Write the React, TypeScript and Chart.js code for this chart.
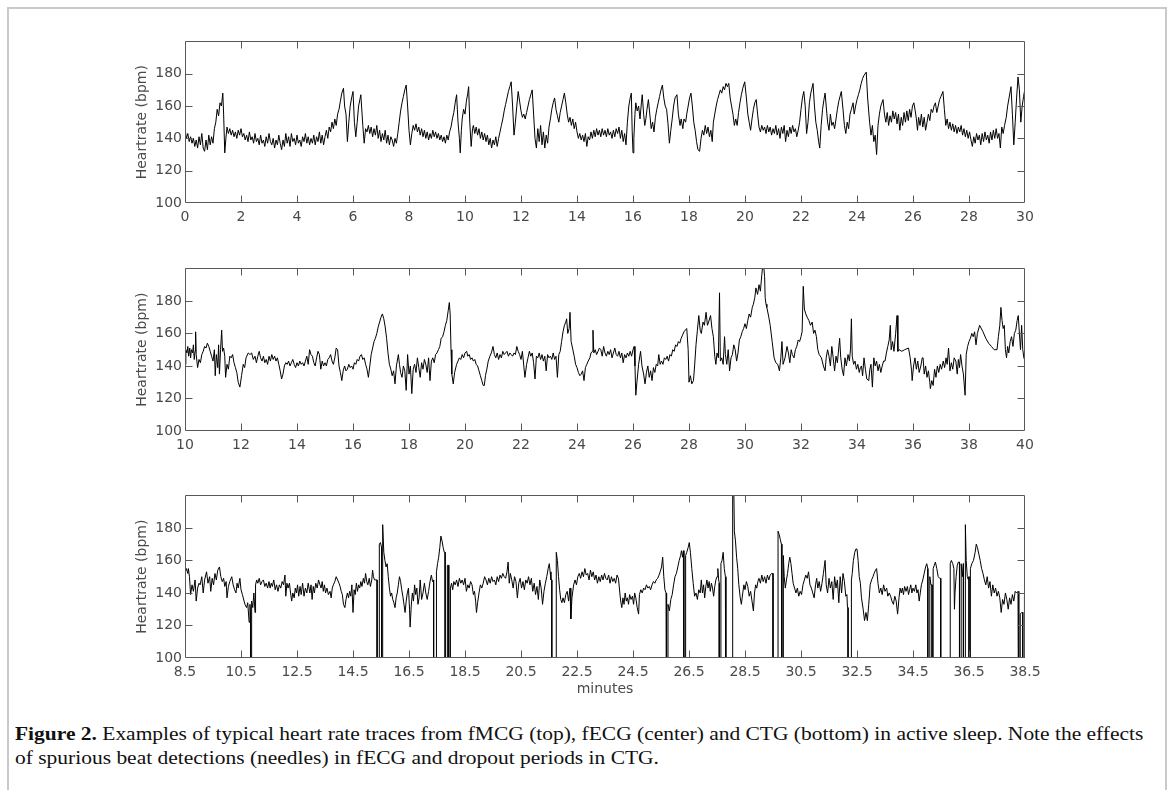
import { useEffect, useRef } from 'react';
import { Chart, registerables } from 'chart.js';

Chart.register(...registerables);

// ---------- data ----------
const yTickValues = [100, 120, 140, 160, 180, 200];
const fmcgTicks = [0, 2, 4, 6, 8, 10, 12, 14, 16, 18, 20, 22, 24, 26, 28, 30];
const fecgTicks = [10, 12, 14, 16, 18, 20, 22, 24, 26, 28, 30, 32, 34, 36, 38, 40];
const ctgTicks = [8.5, 10.5, 12.5, 14.5, 16.5, 18.5, 20.5, 22.5, 24.5, 26.5, 28.5, 30.5, 32.5, 34.5, 36.5, 38.5];

// [minutes, bpm]
const fmcgTrace: number[][] = [
  [0,146],[0.05,140],[0.1,143],[0.15,138],[0.2,141],[0.25,137],[0.3,140],[0.35,135],[0.4,139],[0.45,134],[0.5,141],[0.55,136],[0.6,143],[0.65,134],[0.7,132],[0.75,139],[0.8,133],[0.85,142],[0.9,136],[0.95,141],[1.0,137],[1.05,146],
  [1.1,150],[1.15,158],[1.2,154],[1.25,162],[1.3,160],[1.35,168],[1.38,155],[1.42,131],[1.46,140],[1.5,147],
  [1.55,143],[1.6,146],[1.65,142],[1.7,145],[1.75,141],[1.8,144],[1.85,140],[1.9,145],[1.95,142],[2.0,146],[2.05,141],[2.1,143],[2.15,139],[2.2,142],[2.25,138],[2.3,144],[2.35,139],[2.4,141],[2.45,137],[2.5,143],[2.55,138],[2.6,140],[2.65,136],[2.7,142],[2.75,137],[2.8,139],[2.85,135],[2.9,141],[2.95,137],[3.0,143],[3.05,138],[3.1,136],[3.15,140],[3.2,134],[3.25,139],[3.3,136],[3.35,142],[3.4,137],[3.45,133],[3.5,139],[3.55,135],[3.6,143],[3.65,137],[3.7,141],[3.75,135],[3.8,143],[3.85,138],[3.9,140],[3.95,136],[4.0,142],[4.05,137],[4.1,139],[4.15,135],[4.2,141],[4.25,138],[4.3,143],[4.35,137],[4.4,141],[4.45,136],[4.5,140],[4.55,137],[4.6,142],[4.65,136],[4.7,141],[4.75,138],[4.8,144],[4.85,137],[4.9,142],[4.95,136],[5.0,141],[5.05,145],
  [5.1,140],[5.15,147],[5.2,144],[5.25,150],[5.3,146],[5.35,152],[5.4,148],[5.45,155],[5.5,158],[5.55,163],[5.6,168],[5.66,171],[5.7,160],[5.75,155],[5.8,138],[5.85,150],[5.9,160],[5.95,165],[6.0,169],[6.05,150],[6.1,141],[6.15,150],[6.2,160],[6.28,167],[6.35,148],[6.4,137],[6.45,146],[6.5,144],[6.55,148],[6.6,143],[6.65,147],[6.7,141],[6.75,146],[6.8,142],[6.85,148],[6.9,140],[6.95,145],[7.0,138],[7.05,143],[7.1,139],[7.15,145],[7.2,137],[7.25,142],[7.3,136],[7.35,141],[7.4,139],[7.45,135],[7.5,140],[7.55,137],[7.6,143],[7.65,150],[7.7,157],[7.75,162],[7.8,166],[7.85,170],[7.9,173],[7.95,160],[8.0,145],[8.05,136],[8.1,143],[8.15,148],[8.2,145],[8.25,149],[8.3,144],[8.35,147],[8.4,142],[8.45,146],[8.5,141],[8.55,145],[8.6,140],[8.65,144],[8.7,139],[8.75,143],[8.8,140],[8.85,145],[8.9,141],[8.95,144],[9.0,140],[9.05,143],[9.1,139],[9.15,142],[9.2,138],[9.25,141],[9.3,137],[9.35,142],[9.4,139],[9.45,144],[9.5,147],[9.55,152],[9.6,156],[9.65,162],[9.7,167],[9.75,150],[9.8,140],[9.83,131],[9.87,145],[9.9,152],[9.95,158],[10.0,155],[10.05,163],[10.1,168],[10.13,172],[10.17,150],[10.22,135],[10.27,146],[10.3,148],[10.35,143],[10.4,147],[10.45,142],[10.5,146],[10.55,140],[10.6,144],[10.65,139],[10.7,143],[10.75,138],[10.8,142],[10.85,136],[10.9,140],[10.95,134],[11.0,139],[11.05,136],[11.1,141],[11.15,135],[11.2,140],[11.25,144],[11.3,148],[11.35,152],[11.4,157],[11.45,161],[11.5,165],[11.55,169],[11.6,172],[11.65,175],[11.7,160],[11.75,142],[11.8,150],[11.85,160],[11.9,169],[11.95,163],[12.0,157],[12.05,153],[12.1,155],[12.15,152],[12.2,156],[12.25,160],[12.3,164],[12.35,167],[12.4,170],[12.45,155],[12.5,140],[12.55,134],[12.6,146],[12.65,138],[12.7,148],[12.75,136],[12.8,144],[12.85,134],[12.9,142],[12.95,137],[13.0,147],[13.05,152],[13.1,158],[13.15,162],[13.2,165],[13.25,158],[13.3,154],[13.35,150],[13.4,156],[13.45,160],[13.5,164],[13.55,168],[13.6,162],[13.65,155],[13.7,150],[13.75,153],[13.8,148],[13.85,152],[13.9,146],[13.95,150],[14.0,144],[14.05,140],[14.1,143],[14.15,139],[14.2,142],[14.25,138],[14.3,143],[14.35,135],[14.4,141],[14.45,139],[14.5,144],[14.55,140],[14.6,145],[14.65,141],[14.7,146],[14.75,142],[14.8,145],[14.85,141],[14.9,146],[14.95,142],[15.0,145],[15.05,141],[15.1,146],[15.15,142],[15.2,144],[15.25,140],[15.3,145],[15.35,141],[15.4,146],[15.45,143],[15.5,147],[15.55,140],[15.6,145],[15.65,138],[15.7,143],[15.75,136],[15.8,150],[15.85,160],[15.9,165],[15.94,168],[15.97,145],[16.0,131],[16.03,140],[16.07,155],[16.1,162],[16.15,157],[16.2,160],[16.25,152],[16.3,162],[16.33,167],[16.38,155],[16.42,148],[16.46,152],[16.5,158],[16.55,164],[16.6,155],[16.65,146],[16.7,150],[16.75,144],[16.8,153],[16.85,158],[16.9,162],[16.95,166],[17.0,170],[17.05,173],[17.1,165],[17.15,160],[17.2,158],[17.25,149],[17.3,137],[17.35,145],[17.4,152],[17.45,160],[17.5,165],[17.57,167],[17.62,155],[17.68,148],[17.72,152],[17.78,146],[17.82,152],[17.88,150],[17.92,155],[17.97,160],[18.02,165],[18.07,168],[18.12,160],[18.17,150],[18.22,145],[18.27,138],[18.32,133],[18.38,132],[18.43,140],[18.48,145],[18.53,142],[18.58,148],[18.63,143],[18.68,147],[18.73,141],[18.78,145],[18.83,138],[18.87,150],[18.92,155],[18.97,160],[19.02,164],[19.07,167],[19.12,170],[19.17,168],[19.22,172],[19.27,170],[19.32,174],[19.37,172],[19.42,174],[19.47,165],[19.52,160],[19.57,155],[19.62,148],[19.67,152],[19.72,148],[19.77,156],[19.82,162],[19.87,167],[19.92,171],[19.99,175],[20.05,165],[20.1,155],[20.15,150],[20.2,145],[20.25,152],[20.3,158],[20.35,162],[20.4,164],[20.45,155],[20.5,147],[20.55,144],[20.6,148],[20.65,145],[20.7,147],[20.75,143],[20.8,148],[20.85,144],[20.9,147],[20.95,142],[21.0,146],[21.05,143],[21.1,148],[21.15,142],[21.2,146],[21.25,140],[21.3,147],[21.35,143],[21.4,148],[21.45,138],[21.5,145],[21.55,141],[21.6,147],[21.65,143],[21.7,148],[21.75,144],[21.8,146],[21.85,141],[21.9,145],[21.95,150],[22.0,158],[22.05,165],[22.1,169],[22.15,160],[22.2,143],[22.25,150],[22.3,162],[22.35,168],[22.43,174],[22.48,160],[22.53,150],[22.58,145],[22.63,138],[22.67,134],[22.72,148],[22.77,158],[22.82,164],[22.86,168],[22.9,160],[22.95,150],[23.0,145],[23.05,155],[23.1,148],[23.15,150],[23.2,146],[23.25,152],[23.3,158],[23.35,163],[23.44,169],[23.5,158],[23.55,148],[23.6,143],[23.65,150],[23.7,146],[23.75,155],[23.8,158],[23.86,162],[23.9,155],[23.95,160],[24.0,164],[24.05,167],[24.1,170],[24.15,174],[24.2,177],[24.25,179],[24.33,181],[24.38,165],[24.45,150],[24.5,142],[24.55,148],[24.6,138],[24.65,142],[24.7,130],[24.75,148],[24.8,155],[24.85,160],[24.93,164],[24.98,155],[25.03,150],[25.08,156],[25.13,148],[25.18,154],[25.23,150],[25.28,157],[25.33,152],[25.38,156],[25.43,149],[25.48,155],[25.53,145],[25.58,153],[25.63,148],[25.68,156],[25.73,150],[25.78,157],[25.83,151],[25.88,158],[25.93,153],[25.98,160],[26.03,162],[26.08,157],[26.12,152],[26.16,145],[26.2,153],[26.25,148],[26.3,155],[26.35,147],[26.4,153],[26.45,145],[26.5,150],[26.55,155],[26.6,151],[26.65,158],[26.7,156],[26.75,160],[26.8,162],[26.85,156],[26.9,160],[26.95,164],[27.0,166],[27.07,169],[27.12,158],[27.17,148],[27.22,152],[27.27,146],[27.32,150],[27.37,145],[27.42,149],[27.47,144],[27.52,148],[27.57,143],[27.62,147],[27.67,144],[27.72,148],[27.77,142],[27.82,146],[27.87,141],[27.92,145],[27.97,140],[28.02,144],[28.07,139],[28.12,135],[28.17,141],[28.22,137],[28.27,143],[28.32,139],[28.37,142],[28.42,136],[28.47,143],[28.52,138],[28.57,144],[28.62,139],[28.67,142],[28.72,137],[28.77,144],[28.82,139],[28.87,145],[28.92,140],[28.97,146],[29.02,140],[29.07,143],[29.12,134],[29.17,147],[29.22,143],[29.27,148],[29.33,153],[29.38,160],[29.43,165],[29.5,172],[29.55,155],[29.6,136],[29.65,150],[29.7,165],[29.75,178],[29.8,170],[29.85,150],[29.9,160],[29.95,166],[30.0,171]
];

const fecgTrace: number[][] = [
  [10.0,141],[10.03,150],[10.07,148],[10.1,152],[10.13,146],[10.17,151],[10.2,145],[10.23,150],[10.27,148],[10.3,153],[10.33,144],[10.36,149],[10.38,161],[10.4,147],[10.45,139],[10.5,144],[10.55,142],[10.6,147],[10.65,149],[10.7,152],[10.75,151],[10.8,154],[10.85,152],[10.9,149],[10.95,146],[11.0,143],[11.05,150],[11.08,134],[11.12,147],[11.17,139],[11.2,153],[11.23,135],[11.27,150],[11.31,162],[11.34,149],[11.38,151],[11.42,146],[11.45,133],[11.5,141],[11.55,138],[11.6,146],[11.65,145],[11.7,147],[11.75,142],[11.8,139],[11.85,136],[11.9,130],[11.96,127],[12.02,134],[12.08,141],[12.13,139],[12.18,145],[12.26,148],[12.32,147],[12.38,148],[12.44,144],[12.5,146],[12.55,142],[12.6,146],[12.65,149],[12.7,145],[12.75,143],[12.8,146],[12.85,142],[12.9,144],[12.95,141],[13.0,146],[13.05,143],[13.1,147],[13.15,144],[13.2,146],[13.25,143],[13.3,145],[13.35,141],[13.4,137],[13.45,132],[13.5,135],[13.55,140],[13.6,142],[13.65,141],[13.7,143],[13.75,140],[13.8,142],[13.85,144],[13.9,141],[13.95,139],[14.0,142],[14.05,140],[14.1,143],[14.15,141],[14.2,142],[14.25,140],[14.3,143],[14.35,146],[14.4,141],[14.45,150],[14.5,147],[14.55,146],[14.6,142],[14.65,140],[14.7,145],[14.75,149],[14.8,147],[14.85,138],[14.9,143],[14.95,140],[15.0,142],[15.05,140],[15.1,144],[15.15,145],[15.2,147],[15.25,143],[15.3,141],[15.35,145],[15.4,151],[15.45,150],[15.5,140],[15.55,136],[15.6,131],[15.65,137],[15.7,140],[15.75,137],[15.8,138],[15.85,141],[15.9,139],[15.95,140],[16.0,138],[16.05,142],[16.1,141],[16.15,144],[16.2,143],[16.25,146],[16.3,147],[16.35,144],[16.4,145],[16.45,141],[16.5,138],[16.55,133],[16.6,140],[16.65,147],[16.7,151],[16.75,155],[16.8,157],[16.85,160],[16.9,164],[16.95,167],[17.0,170],[17.05,172],[17.1,169],[17.15,164],[17.2,157],[17.25,148],[17.3,141],[17.35,138],[17.4,134],[17.45,137],[17.5,129],[17.55,140],[17.6,145],[17.62,147],[17.66,141],[17.7,136],[17.75,133],[17.8,140],[17.85,137],[17.9,125],[17.95,147],[18.0,135],[18.05,140],[18.1,123],[18.15,138],[18.2,141],[18.25,136],[18.3,145],[18.35,139],[18.4,133],[18.45,142],[18.5,138],[18.55,144],[18.6,141],[18.65,136],[18.7,145],[18.75,131],[18.8,143],[18.85,145],[18.9,142],[18.95,147],[19.0,148],[19.05,150],[19.1,152],[19.15,157],[19.2,158],[19.25,161],[19.3,165],[19.35,168],[19.4,174],[19.44,179],[19.47,172],[19.5,150],[19.53,135],[19.58,129],[19.63,136],[19.7,141],[19.75,143],[19.8,145],[19.85,144],[19.9,147],[19.95,145],[20.0,148],[20.06,149],[20.1,146],[20.15,147],[20.2,144],[20.25,145],[20.3,143],[20.35,144],[20.4,141],[20.45,140],[20.5,137],[20.55,134],[20.6,131],[20.65,128],[20.69,128],[20.73,134],[20.78,138],[20.83,143],[20.89,146],[20.94,148],[21.0,152],[21.05,147],[21.1,145],[21.15,148],[21.2,144],[21.25,147],[21.3,145],[21.35,149],[21.4,147],[21.45,148],[21.5,149],[21.55,146],[21.6,148],[21.65,147],[21.7,146],[21.75,148],[21.8,147],[21.85,152],[21.9,149],[21.95,147],[22.0,144],[22.05,149],[22.1,140],[22.14,133],[22.2,141],[22.25,145],[22.3,149],[22.35,146],[22.4,148],[22.45,142],[22.5,132],[22.55,146],[22.6,145],[22.65,148],[22.7,144],[22.75,147],[22.8,143],[22.85,146],[22.9,137],[22.95,147],[23.0,145],[23.05,146],[23.1,144],[23.15,148],[23.2,144],[23.25,146],[23.3,133],[23.35,147],[23.4,149],[23.45,155],[23.5,161],[23.55,165],[23.6,167],[23.63,169],[23.67,160],[23.72,163],[23.75,173],[23.79,155],[23.84,151],[23.9,146],[23.95,141],[24.0,139],[24.05,136],[24.1,134],[24.15,135],[24.2,137],[24.25,131],[24.3,139],[24.35,141],[24.4,143],[24.46,145],[24.5,148],[24.55,149],[24.57,162],[24.6,148],[24.65,150],[24.7,147],[24.75,149],[24.8,151],[24.85,150],[24.9,146],[24.95,152],[25.0,148],[25.05,146],[25.1,149],[25.15,147],[25.2,150],[25.25,145],[25.3,148],[25.35,151],[25.4,147],[25.45,146],[25.5,149],[25.55,145],[25.6,148],[25.65,142],[25.7,147],[25.75,145],[25.8,148],[25.85,146],[25.9,149],[25.95,146],[26.0,150],[26.04,152],[26.07,140],[26.1,122],[26.14,130],[26.2,141],[26.27,149],[26.32,140],[26.38,135],[26.43,129],[26.48,136],[26.53,140],[26.58,133],[26.63,137],[26.68,131],[26.73,139],[26.78,136],[26.83,141],[26.88,140],[26.92,147],[26.97,141],[27.02,143],[27.07,141],[27.12,145],[27.17,144],[27.22,146],[27.27,143],[27.32,147],[27.37,146],[27.42,150],[27.47,149],[27.52,153],[27.57,152],[27.62,155],[27.67,154],[27.72,157],[27.77,159],[27.82,161],[27.86,162],[27.92,163],[27.97,150],[28.0,130],[28.05,134],[28.1,129],[28.16,131],[28.2,140],[28.25,153],[28.3,162],[28.35,171],[28.4,162],[28.44,160],[28.5,167],[28.55,165],[28.61,173],[28.66,165],[28.7,167],[28.77,171],[28.82,163],[28.87,158],[28.92,146],[28.96,141],[29.0,148],[29.05,145],[29.09,185],[29.12,143],[29.17,145],[29.22,141],[29.27,158],[29.3,147],[29.35,141],[29.4,150],[29.45,137],[29.5,145],[29.55,147],[29.6,153],[29.65,150],[29.7,143],[29.75,148],[29.8,156],[29.85,158],[29.9,161],[29.95,163],[30.0,166],[30.05,163],[30.1,168],[30.15,172],[30.2,170],[30.26,176],[30.3,178],[30.35,182],[30.39,188],[30.45,184],[30.5,190],[30.55,186],[30.6,196],[30.65,205],[30.7,195],[30.72,182],[30.75,178],[30.78,176],[30.85,170],[30.9,165],[30.97,155],[31.04,145],[31.1,142],[31.17,141],[31.23,137],[31.28,145],[31.32,155],[31.36,141],[31.43,145],[31.5,152],[31.55,148],[31.6,142],[31.65,150],[31.69,147],[31.75,145],[31.8,150],[31.85,152],[31.9,156],[31.95,155],[32.0,158],[32.04,161],[32.08,189],[32.12,175],[32.17,172],[32.22,170],[32.28,168],[32.34,165],[32.4,167],[32.45,160],[32.5,162],[32.55,158],[32.6,150],[32.65,147],[32.73,145],[32.8,140],[32.86,137],[32.9,145],[32.95,150],[33.0,146],[33.05,140],[33.1,152],[33.15,145],[33.2,137],[33.25,146],[33.3,142],[33.38,157],[33.42,145],[33.47,138],[33.52,134],[33.57,145],[33.62,140],[33.68,147],[33.73,143],[33.77,151],[33.8,169],[33.83,146],[33.88,141],[33.93,143],[33.98,138],[34.03,141],[34.08,136],[34.12,139],[34.16,140],[34.2,134],[34.25,145],[34.3,138],[34.35,132],[34.42,131],[34.46,138],[34.5,141],[34.55,127],[34.6,145],[34.65,140],[34.7,143],[34.75,137],[34.8,141],[34.85,136],[34.9,140],[34.95,143],[35.0,143],[35.05,148],[35.1,152],[35.15,156],[35.19,165],[35.22,150],[35.27,155],[35.32,149],[35.38,160],[35.43,171],[35.46,149],[35.5,150],[35.6,149],[35.7,150],[35.84,151],[35.9,145],[35.95,137],[35.97,131],[36.02,140],[36.07,145],[36.12,138],[36.17,143],[36.22,136],[36.28,140],[36.33,145],[36.36,145],[36.4,135],[36.45,140],[36.5,133],[36.55,137],[36.6,130],[36.62,126],[36.67,131],[36.72,128],[36.77,138],[36.82,133],[36.87,140],[36.92,136],[36.97,141],[37.02,138],[37.08,143],[37.13,139],[37.18,145],[37.22,141],[37.27,151],[37.32,137],[37.37,142],[37.42,138],[37.47,145],[37.53,143],[37.58,135],[37.62,144],[37.66,139],[37.7,147],[37.75,140],[37.8,135],[37.86,122],[37.9,147],[37.95,152],[38.0,155],[38.05,157],[38.1,160],[38.15,158],[38.2,161],[38.25,153],[38.3,160],[38.38,165],[38.5,161],[38.6,157],[38.7,154],[38.8,152],[38.9,150],[39.0,150],[39.05,158],[39.1,165],[39.14,176],[39.18,168],[39.22,163],[39.26,165],[39.3,150],[39.34,145],[39.38,152],[39.42,148],[39.47,155],[39.52,158],[39.57,152],[39.62,160],[39.67,162],[39.72,168],[39.76,171],[39.8,160],[39.84,150],[39.88,165],[39.92,150],[39.96,145],[40.0,143]
];

const ctgTrace: number[][] = [
  [8.5,131],[8.51,153],[8.55,155],[8.6,152],[8.62,155],[8.66,150],[8.7,139],[8.75,145],[8.8,141],[8.86,148],[8.9,135],[8.95,143],[9.0,146],[9.04,145],[9.1,150],[9.15,140],[9.2,148],[9.27,153],[9.32,146],[9.38,150],[9.42,141],[9.47,149],[9.52,145],[9.57,152],[9.62,148],[9.67,154],[9.73,156],[9.78,150],[9.83,147],[9.88,149],[9.92,144],[9.97,147],[10.0,137],[10.05,144],[10.1,147],[10.17,150],[10.22,145],[10.27,142],[10.32,140],[10.36,146],[10.4,143],[10.46,149],[10.5,142],[10.55,139],[10.58,137],[10.64,133],[10.7,131],[10.74,134],[10.79,122],[10.82,133],[10.84,128],[10.84,0],[10.88,0],[10.88,135],[10.92,131],[10.96,140],[11.0,128],[11.02,145],[11.06,148],[11.1,146],[11.15,149],[11.2,145],[11.25,147],[11.3,148],[11.35,144],[11.4,146],[11.45,143],[11.5,147],[11.54,143],[11.58,146],[11.62,144],[11.67,148],[11.72,142],[11.77,145],[11.82,141],[11.87,145],[11.92,143],[11.97,147],[12.02,145],[12.07,151],[12.1,138],[12.14,146],[12.18,143],[12.23,146],[12.27,140],[12.31,135],[12.35,140],[12.4,137],[12.44,143],[12.48,140],[12.52,145],[12.56,138],[12.61,144],[12.65,139],[12.7,146],[12.75,138],[12.8,143],[12.85,140],[12.9,146],[12.96,140],[13.0,145],[13.04,136],[13.08,144],[13.12,140],[13.17,146],[13.22,143],[13.27,148],[13.32,145],[13.36,143],[13.4,147],[13.44,141],[13.48,145],[13.52,140],[13.57,143],[13.62,139],[13.68,141],[13.72,137],[13.76,143],[13.8,145],[13.85,147],[13.9,150],[13.95,148],[14.0,146],[14.04,144],[14.08,141],[14.12,139],[14.16,133],[14.21,131],[14.25,136],[14.3,140],[14.34,137],[14.38,141],[14.42,138],[14.46,145],[14.5,128],[14.54,142],[14.58,139],[14.62,146],[14.66,141],[14.7,145],[14.74,143],[14.78,147],[14.82,144],[14.87,149],[14.91,146],[14.95,152],[14.99,147],[15.03,145],[15.08,149],[15.12,144],[15.17,148],[15.2,154],[15.23,150],[15.27,148],[15.32,148],[15.36,148],[15.36,0],[15.44,0],[15.44,170],[15.48,171],[15.52,168],[15.52,0],[15.56,0],[15.56,182],[15.6,165],[15.64,160],[15.68,156],[15.72,158],[15.76,150],[15.8,143],[15.84,138],[15.88,140],[15.92,136],[15.96,134],[16.0,131],[16.04,137],[16.08,140],[16.12,145],[16.16,150],[16.2,147],[16.24,142],[16.28,138],[16.32,133],[16.36,128],[16.4,135],[16.44,140],[16.48,143],[16.52,130],[16.54,119],[16.58,132],[16.62,140],[16.66,135],[16.7,145],[16.74,139],[16.78,143],[16.82,133],[16.86,137],[16.9,148],[16.95,136],[17.0,140],[17.05,146],[17.1,140],[17.15,136],[17.2,141],[17.25,147],[17.3,151],[17.34,147],[17.38,148],[17.38,0],[17.48,0],[17.48,153],[17.52,158],[17.56,162],[17.6,168],[17.64,175],[17.68,172],[17.72,168],[17.76,165],[17.79,165],[17.79,0],[17.87,0],[17.87,157],[17.92,157],[17.92,0],[17.98,0],[17.98,143],[18.02,146],[18.06,142],[18.1,147],[18.15,145],[18.2,148],[18.25,144],[18.3,149],[18.35,146],[18.4,148],[18.45,145],[18.5,149],[18.55,141],[18.6,145],[18.65,143],[18.7,147],[18.75,145],[18.8,139],[18.84,141],[18.88,135],[18.91,128],[18.95,134],[19.0,140],[19.05,145],[19.1,143],[19.15,146],[19.2,150],[19.25,148],[19.3,145],[19.35,149],[19.4,146],[19.45,150],[19.5,147],[19.55,148],[19.6,145],[19.65,150],[19.7,147],[19.75,151],[19.8,149],[19.85,152],[19.9,150],[19.95,149],[20.0,153],[20.04,159],[20.08,146],[20.12,152],[20.17,148],[20.22,143],[20.27,150],[20.32,147],[20.37,137],[20.42,146],[20.47,149],[20.52,143],[20.57,147],[20.62,142],[20.67,148],[20.72,146],[20.77,150],[20.82,145],[20.87,149],[20.92,141],[20.97,146],[21.02,139],[21.07,144],[21.12,136],[21.17,148],[21.22,143],[21.27,133],[21.32,141],[21.37,146],[21.42,150],[21.47,155],[21.51,158],[21.54,153],[21.57,148],[21.6,148],[21.6,0],[21.76,0],[21.76,165],[21.8,160],[21.84,150],[21.88,142],[21.92,136],[21.96,134],[22.0,137],[22.05,134],[22.1,139],[22.15,141],[22.2,135],[22.25,143],[22.28,124],[22.32,137],[22.38,145],[22.43,148],[22.48,145],[22.53,150],[22.58,152],[22.63,149],[22.68,153],[22.73,150],[22.78,155],[22.83,151],[22.88,152],[22.93,148],[22.98,154],[23.03,150],[23.08,153],[23.13,148],[23.18,151],[23.23,146],[23.28,150],[23.33,147],[23.38,151],[23.43,148],[23.48,152],[23.53,149],[23.58,148],[23.63,151],[23.68,146],[23.73,150],[23.78,147],[23.83,149],[23.88,146],[23.93,151],[23.98,149],[24.03,140],[24.06,135],[24.1,131],[24.14,137],[24.18,133],[24.22,140],[24.26,135],[24.3,137],[24.34,133],[24.38,139],[24.43,136],[24.48,138],[24.52,133],[24.56,140],[24.6,137],[24.65,131],[24.7,127],[24.73,139],[24.78,142],[24.83,140],[24.88,143],[24.93,142],[24.98,145],[25.03,143],[25.08,144],[25.13,142],[25.18,145],[25.23,147],[25.28,146],[25.33,148],[25.38,149],[25.43,151],[25.47,153],[25.52,156],[25.56,162],[25.6,150],[25.64,142],[25.68,140],[25.7,140],[25.7,0],[25.75,0],[25.75,133],[25.8,129],[25.85,136],[25.9,139],[25.95,145],[26.0,150],[26.05,152],[26.1,156],[26.15,160],[26.2,163],[26.23,166],[26.27,162],[26.3,166],[26.32,166],[26.32,0],[26.38,0],[26.38,163],[26.42,165],[26.47,168],[26.51,171],[26.55,165],[26.6,155],[26.65,146],[26.7,138],[26.75,140],[26.8,136],[26.85,142],[26.9,140],[26.94,148],[26.98,140],[27.02,145],[27.06,137],[27.1,144],[27.14,148],[27.18,143],[27.22,147],[27.26,141],[27.3,146],[27.34,143],[27.38,138],[27.42,144],[27.46,148],[27.5,150],[27.53,155],[27.56,148],[27.58,146],[27.58,0],[27.64,0],[27.64,158],[27.68,160],[27.72,165],[27.76,155],[27.8,150],[27.82,150],[27.82,0],[28.06,0],[28.06,205],[28.1,205],[28.12,178],[28.16,172],[28.2,162],[28.24,155],[28.28,145],[28.33,137],[28.37,133],[28.42,140],[28.46,145],[28.5,142],[28.55,147],[28.6,144],[28.65,138],[28.7,141],[28.75,135],[28.8,129],[28.84,140],[28.88,145],[28.92,143],[28.96,147],[29.0,149],[29.05,146],[29.1,151],[29.15,147],[29.2,150],[29.25,146],[29.3,151],[29.35,148],[29.4,151],[29.45,152],[29.5,152],[29.5,0],[29.68,0],[29.68,178],[29.72,176],[29.76,173],[29.8,170],[29.82,170],[29.82,0],[29.87,0],[29.87,163],[29.9,150],[29.94,143],[29.98,148],[30.02,152],[30.06,158],[30.1,162],[30.14,158],[30.18,152],[30.22,146],[30.27,143],[30.32,140],[30.37,143],[30.42,138],[30.47,141],[30.52,139],[30.57,145],[30.62,148],[30.67,151],[30.72,149],[30.77,153],[30.82,145],[30.87,143],[30.92,140],[30.97,137],[31.02,145],[31.06,149],[31.1,143],[31.15,147],[31.2,141],[31.25,146],[31.3,152],[31.36,160],[31.4,145],[31.45,140],[31.5,149],[31.55,143],[31.6,147],[31.65,136],[31.7,150],[31.75,143],[31.8,148],[31.85,134],[31.9,150],[31.95,140],[32.0,152],[32.05,147],[32.1,138],[32.14,139],[32.16,131],[32.18,131],[32.18,0],[32.3,0],[32.3,148],[32.33,152],[32.37,160],[32.42,165],[32.46,167],[32.5,167],[32.54,160],[32.58,150],[32.62,146],[32.66,137],[32.72,130],[32.77,123],[32.82,128],[32.87,123],[32.92,133],[32.97,145],[33.02,148],[33.07,150],[33.11,152],[33.16,154],[33.2,155],[33.25,146],[33.3,140],[33.35,143],[33.4,139],[33.45,145],[33.5,141],[33.56,143],[33.6,138],[33.65,140],[33.7,138],[33.75,135],[33.8,133],[33.85,138],[33.9,135],[33.95,127],[34.0,137],[34.04,143],[34.08,140],[34.12,143],[34.16,139],[34.2,144],[34.25,141],[34.3,144],[34.34,139],[34.38,142],[34.42,145],[34.46,140],[34.5,143],[34.55,141],[34.6,145],[34.64,140],[34.68,142],[34.72,135],[34.76,140],[34.8,145],[34.85,148],[34.9,152],[34.95,156],[34.99,158],[35.03,155],[35.03,0],[35.1,0],[35.1,150],[35.14,145],[35.18,145],[35.18,0],[35.22,0],[35.22,155],[35.26,157],[35.3,159],[35.35,155],[35.4,150],[35.45,149],[35.49,149],[35.49,0],[35.83,0],[35.83,158],[35.87,160],[35.92,158],[35.96,155],[35.98,130],[36.0,140],[36.04,150],[36.08,157],[36.12,159],[36.16,159],[36.16,0],[36.22,0],[36.22,158],[36.26,150],[36.3,158],[36.3,0],[36.37,0],[36.37,182],[36.4,160],[36.44,150],[36.48,148],[36.5,150],[36.5,0],[36.55,0],[36.55,155],[36.6,158],[36.66,160],[36.72,165],[36.76,170],[36.8,168],[36.85,164],[36.9,160],[36.95,155],[37.0,152],[37.05,148],[37.1,145],[37.15,150],[37.2,143],[37.25,147],[37.3,138],[37.35,145],[37.4,140],[37.45,143],[37.5,138],[37.55,141],[37.6,137],[37.65,128],[37.7,136],[37.75,133],[37.8,140],[37.85,136],[37.9,130],[37.95,137],[38.0,133],[38.05,139],[38.1,135],[38.15,141],[38.2,140],[38.25,141],[38.28,141],[38.28,0],[38.33,0],[38.33,127],[38.38,128],[38.42,128],[38.42,0],[38.48,0],[38.48,139],[38.5,139]
];

// ---------- styling ----------
const AXIS_TEXT = '#4a4a4a';
const AXIS_LINE = '#585858';
const FONT = "'DejaVu Sans', sans-serif";
const TICK_LEN = 7;

const matlabFrame = {
  id: 'matlabFrame',
  afterDraw(chart: any) {
    const { ctx, chartArea, scales } = chart;
    const l = Math.round(chartArea.left) + 0.5;
    const r = Math.round(chartArea.right) - 0.5;
    const t = Math.round(chartArea.top) + 0.5;
    const b = Math.round(chartArea.bottom) - 0.5;
    ctx.save();
    ctx.strokeStyle = AXIS_LINE;
    ctx.lineWidth = 1;
    ctx.beginPath();
    ctx.rect(l, t, r - l, b - t);
    for (const tk of scales.x.ticks) {
      const px = Math.round(scales.x.getPixelForValue(tk.value)) + 0.5;
      if (px <= l + 1 || px >= r - 1) continue;
      ctx.moveTo(px, b); ctx.lineTo(px, b - TICK_LEN);
      ctx.moveTo(px, t); ctx.lineTo(px, t + TICK_LEN);
    }
    for (const tk of scales.y.ticks) {
      const py = Math.round(scales.y.getPixelForValue(tk.value)) + 0.5;
      if (py <= t + 1 || py >= b - 1) continue;
      ctx.moveTo(l, py); ctx.lineTo(l + TICK_LEN, py);
      ctx.moveTo(r, py); ctx.lineTo(r - TICK_LEN, py);
    }
    ctx.stroke();
    ctx.restore();
  },
};

type PanelProps = {
  trace: number[][];
  xTicks: number[];
  top: number;
  height: number;
  xTitle?: string;
};

function Panel({ trace, xTicks, top, height, xTitle }: PanelProps) {
  const ref = useRef<HTMLCanvasElement | null>(null);
  useEffect(() => {
    if (!ref.current) return;
    const font = { family: FONT, size: 14 };
    const chart = new Chart(ref.current, {
      type: 'line',
      data: {
        datasets: [
          {
            data: trace.map(([x, y]) => ({ x, y })),
            borderColor: '#000000',
            borderWidth: 1,
            pointRadius: 0,
            tension: 0,
            fill: false,
          },
        ],
      },
      options: {
        animation: false,
        responsive: false,
        events: [],
        layout: { padding: { top: 10, right: 144, left: 0, bottom: 0 } },
        plugins: { legend: { display: false }, tooltip: { enabled: false } },
        scales: {
          x: {
            type: 'linear',
            min: xTicks[0],
            max: xTicks[xTicks.length - 1],
            afterBuildTicks: (s: any) => {
              s.ticks = xTicks.map((v) => ({ value: v }));
            },
            afterFit: (s: any) => {
              s.height = 40;
            },
            grid: { display: false, drawTicks: false },
            border: { display: false },
            ticks: {
              padding: 6,
              color: AXIS_TEXT,
              font,
              maxRotation: 0,
              autoSkip: false,
              callback: (v: any) => String(v),
            },
            title: xTitle
              ? { display: true, text: xTitle, color: AXIS_TEXT, font, padding: { top: 0, bottom: 0 } }
              : { display: false },
          },
          y: {
            min: yTickValues[0],
            max: yTickValues[yTickValues.length - 1],
            afterBuildTicks: (s: any) => {
              s.ticks = yTickValues.map((v) => ({ value: v }));
            },
            afterFit: (s: any) => {
              s.width = 185;
            },
            grid: { display: false, drawTicks: false },
            border: { display: false },
            ticks: {
              padding: 3,
              color: AXIS_TEXT,
              font,
              callback: (v: any) => (v === 200 ? '' : String(v)),
            },
            title: {
              display: true,
              text: 'Heartrate (bpm)',
              color: AXIS_TEXT,
              font,
              padding: { top: 134, bottom: 0 },
            },
          },
        },
      } as any,
      plugins: [matlabFrame],
    });
    return () => chart.destroy();
  }, [trace, xTicks, xTitle]);
  return (
    <canvas
      ref={ref}
      width={1169}
      height={height}
      style={{ position: 'absolute', left: 0, top, width: 1169, height }}
    />
  );
}

export default function App() {
  return (
    <div style={{ position: 'absolute', left: 0, top: 0, width: 1169, height: 790, overflow: 'hidden', background: '#fff' }}>
      <div
        style={{
          position: 'absolute',
          left: 7,
          top: 7,
          width: 1156,
          height: 790,
          borderTop: '2px solid #c9c9c9',
          borderLeft: '2px solid #c9c9c9',
          borderRight: '2px solid #c9c9c9',
        }}
      />
      <Panel trace={fmcgTrace} xTicks={fmcgTicks} top={30} height={213} />
      <Panel trace={fecgTrace} xTicks={fecgTicks} top={257} height={214} />
      <Panel trace={ctgTrace} xTicks={ctgTicks} top={484} height={214} xTitle="minutes" />
      <div
        style={{
          position: 'absolute',
          left: 15,
          top: 722,
          fontFamily: "'Liberation Serif', 'Times New Roman', serif",
          fontSize: 19,
          lineHeight: '24px',
          color: '#111',
          whiteSpace: 'nowrap',
          transform: 'scaleX(1.13)',
          transformOrigin: '0 0',
        }}
      >
        <b>Figure 2.</b> Examples of typical heart rate traces from fMCG (top), fECG (center) and CTG (bottom) in active sleep. Note the effects
        <br />
        of spurious beat detections (needles) in fECG and dropout periods in CTG.
      </div>
    </div>
  );
}
